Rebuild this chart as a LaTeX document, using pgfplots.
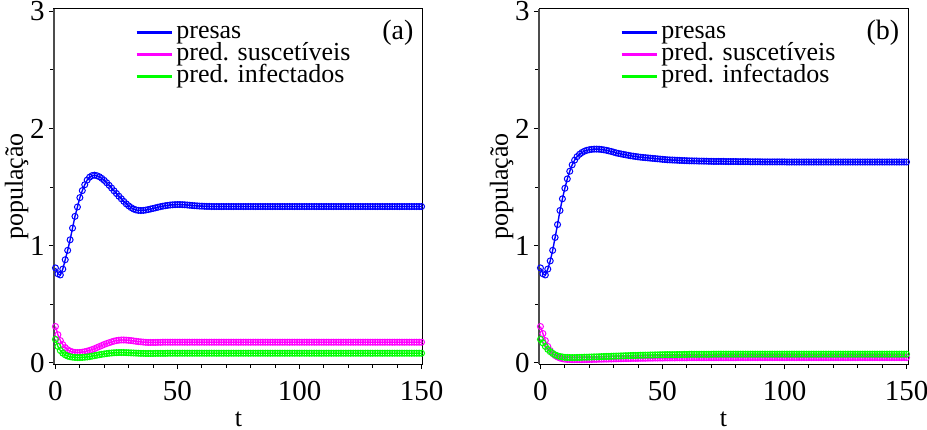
\documentclass[border=0pt]{standalone}
\usepackage{fontspec}
\setmainfont{Liberation Serif}
\usepackage{pgfplots}
\usepackage{pgfplotstable}
\pgfplotsset{compat=1.18}

\definecolor{cPrey}{RGB}{0,0,255}
\definecolor{cSus}{RGB}{255,0,255}
\definecolor{cInf}{RGB}{0,255,0}

% t, presas, pred. suscetiveis, pred. infectados -- panel (a)
\pgfplotstableread{
t p s i
0 0.81 0.31 0.20
1 0.76 0.24 0.14
2 0.75 0.19 0.105
3 0.80 0.155 0.083
4 0.88 0.13 0.068
5 0.96 0.112 0.058
6 1.05 0.100 0.052
7 1.15 0.093 0.048
8 1.25 0.089 0.046
9 1.33 0.088 0.045
10 1.41 0.089 0.045
11 1.47 0.091 0.046
12 1.52 0.095 0.048
13 1.56 0.100 0.050
14 1.585 0.106 0.053
15 1.598 0.113 0.057
16 1.602 0.121 0.061
17 1.597 0.130 0.065
18 1.588 0.139 0.069
19 1.574 0.148 0.073
20 1.557 0.157 0.076
21 1.537 0.165 0.079
22 1.515 0.172 0.082
23 1.492 0.179 0.084
24 1.468 0.185 0.086
25 1.445 0.190 0.087
26 1.422 0.193 0.088
27 1.400 0.195 0.088
28 1.378 0.195 0.088
29 1.357 0.194 0.087
30 1.340 0.192 0.086
31 1.325 0.190 0.085
32 1.313 0.187 0.084
33 1.305 0.184 0.083
34 1.301 0.181 0.082
35 1.300 0.179 0.081
36 1.301 0.177 0.081
37 1.304 0.175 0.080
38 1.308 0.174 0.080
39 1.313 0.174 0.080
40 1.318 0.174 0.080
41 1.323 0.174 0.081
42 1.328 0.175 0.081
43 1.333 0.175 0.081
44 1.337 0.176 0.081
45 1.341 0.176 0.081
46 1.344 0.176 0.082
47 1.347 0.176 0.082
48 1.349 0.176 0.082
49 1.350 0.176 0.082
50 1.351 0.176 0.082
51 1.351 0.176 0.082
52 1.350 0.176 0.082
53 1.349 0.176 0.082
54 1.347 0.176 0.082
55 1.345 0.176 0.082
56 1.343 0.176 0.082
57 1.341 0.176 0.082
58 1.340 0.176 0.082
59 1.338 0.176 0.082
60 1.337 0.176 0.082
61 1.336 0.176 0.082
62 1.335 0.176 0.082
63 1.335 0.176 0.082
64 1.334 0.176 0.082
65 1.334 0.176 0.082
66 1.334 0.176 0.082
67 1.334 0.176 0.082
68 1.334 0.176 0.082
69 1.334 0.176 0.082
70 1.334 0.176 0.082
71 1.334 0.176 0.082
72 1.334 0.176 0.082
73 1.334 0.176 0.082
74 1.334 0.176 0.082
75 1.334 0.176 0.082
76 1.334 0.176 0.082
77 1.334 0.176 0.082
78 1.334 0.176 0.082
79 1.334 0.176 0.082
80 1.334 0.176 0.082
81 1.334 0.176 0.082
82 1.334 0.176 0.082
83 1.334 0.176 0.082
84 1.334 0.176 0.082
85 1.334 0.176 0.082
86 1.334 0.176 0.082
87 1.334 0.176 0.082
88 1.334 0.176 0.082
89 1.334 0.176 0.082
90 1.334 0.176 0.082
91 1.334 0.176 0.082
92 1.334 0.176 0.082
93 1.334 0.176 0.082
94 1.334 0.176 0.082
95 1.334 0.176 0.082
96 1.334 0.176 0.082
97 1.334 0.176 0.082
98 1.334 0.176 0.082
99 1.334 0.176 0.082
100 1.334 0.176 0.082
101 1.334 0.176 0.082
102 1.334 0.176 0.082
103 1.334 0.176 0.082
104 1.334 0.176 0.082
105 1.334 0.176 0.082
106 1.334 0.176 0.082
107 1.334 0.176 0.082
108 1.334 0.176 0.082
109 1.334 0.176 0.082
110 1.334 0.176 0.082
111 1.334 0.176 0.082
112 1.334 0.176 0.082
113 1.334 0.176 0.082
114 1.334 0.176 0.082
115 1.334 0.176 0.082
116 1.334 0.176 0.082
117 1.334 0.176 0.082
118 1.334 0.176 0.082
119 1.334 0.176 0.082
120 1.334 0.176 0.082
121 1.334 0.176 0.082
122 1.334 0.176 0.082
123 1.334 0.176 0.082
124 1.334 0.176 0.082
125 1.334 0.176 0.082
126 1.334 0.176 0.082
127 1.334 0.176 0.082
128 1.334 0.176 0.082
129 1.334 0.176 0.082
130 1.334 0.176 0.082
131 1.334 0.176 0.082
132 1.334 0.176 0.082
133 1.334 0.176 0.082
134 1.334 0.176 0.082
135 1.334 0.176 0.082
136 1.334 0.176 0.082
137 1.334 0.176 0.082
138 1.334 0.176 0.082
139 1.334 0.176 0.082
140 1.334 0.176 0.082
141 1.334 0.176 0.082
142 1.334 0.176 0.082
143 1.334 0.176 0.082
144 1.334 0.176 0.082
145 1.334 0.176 0.082
146 1.334 0.176 0.082
147 1.334 0.176 0.082
148 1.334 0.176 0.082
149 1.334 0.176 0.082
150 1.334 0.176 0.082
}\dataA

% panel (b)
\pgfplotstableread{
t p s i
0 0.81 0.31 0.20
1 0.76 0.25 0.17
2 0.75 0.19 0.14
3 0.80 0.14 0.115
4 0.87 0.105 0.095
5 0.96 0.080 0.080
6 1.07 0.062 0.068
7 1.18 0.050 0.060
8 1.30 0.041 0.054
9 1.40 0.035 0.050
10 1.49 0.031 0.047
11 1.57 0.029 0.046
12 1.635 0.028 0.045
13 1.69 0.027 0.045
14 1.73 0.027 0.045
15 1.76 0.027 0.046
16 1.78 0.027 0.046
17 1.795 0.027 0.047
18 1.806 0.028 0.048
19 1.814 0.028 0.048
20 1.819 0.029 0.049
21 1.822 0.029 0.050
22 1.824 0.030 0.051
23 1.824 0.030 0.051
24 1.823 0.031 0.052
25 1.821 0.031 0.053
26 1.818 0.032 0.054
27 1.814 0.032 0.055
28 1.809 0.033 0.055
29 1.804 0.033 0.056
30 1.798 0.034 0.057
31 1.792 0.034 0.058
32 1.787 0.035 0.058
33 1.783 0.035 0.059
34 1.779 0.036 0.060
35 1.775 0.036 0.061
36 1.771 0.037 0.061
37 1.767 0.037 0.062
38 1.764 0.038 0.063
39 1.761 0.038 0.063
40 1.758 0.038 0.064
41 1.755 0.039 0.065
42 1.753 0.039 0.065
43 1.751 0.039 0.066
44 1.749 0.040 0.066
45 1.747 0.040 0.067
46 1.745 0.040 0.067
47 1.743 0.041 0.068
48 1.741 0.041 0.068
49 1.739 0.041 0.069
50 1.737 0.041 0.069
51 1.735 0.042 0.070
52 1.733 0.042 0.070
53 1.732 0.042 0.070
54 1.731 0.042 0.070
55 1.730 0.042 0.070
56 1.729 0.043 0.071
57 1.728 0.043 0.071
58 1.727 0.043 0.071
59 1.726 0.043 0.072
60 1.725 0.043 0.072
61 1.724 0.044 0.073
62 1.724 0.044 0.073
63 1.723 0.044 0.073
64 1.723 0.044 0.073
65 1.722 0.044 0.073
66 1.722 0.044 0.073
67 1.721 0.044 0.073
68 1.721 0.044 0.073
69 1.720 0.044 0.073
70 1.720 0.044 0.073
71 1.719 0.044 0.074
72 1.719 0.044 0.074
73 1.719 0.044 0.074
74 1.719 0.044 0.074
75 1.719 0.044 0.074
76 1.718 0.044 0.074
77 1.718 0.044 0.074
78 1.718 0.044 0.074
79 1.718 0.044 0.074
80 1.718 0.044 0.074
81 1.717 0.045 0.074
82 1.717 0.045 0.074
83 1.717 0.045 0.074
84 1.717 0.045 0.074
85 1.717 0.045 0.074
86 1.716 0.045 0.074
87 1.716 0.045 0.074
88 1.716 0.045 0.074
89 1.716 0.045 0.074
90 1.716 0.045 0.074
91 1.715 0.045 0.074
92 1.715 0.045 0.074
93 1.715 0.045 0.074
94 1.715 0.045 0.074
95 1.715 0.045 0.074
96 1.715 0.045 0.074
97 1.715 0.045 0.074
98 1.715 0.045 0.074
99 1.715 0.045 0.074
100 1.715 0.045 0.074
101 1.714 0.045 0.074
102 1.714 0.045 0.074
103 1.714 0.045 0.074
104 1.714 0.045 0.074
105 1.714 0.045 0.074
106 1.714 0.045 0.074
107 1.714 0.045 0.074
108 1.714 0.045 0.074
109 1.714 0.045 0.074
110 1.714 0.045 0.074
111 1.714 0.045 0.074
112 1.714 0.045 0.074
113 1.714 0.045 0.074
114 1.714 0.045 0.074
115 1.714 0.045 0.074
116 1.714 0.045 0.074
117 1.714 0.045 0.074
118 1.714 0.045 0.074
119 1.714 0.045 0.074
120 1.714 0.045 0.074
121 1.714 0.045 0.074
122 1.714 0.045 0.074
123 1.714 0.045 0.074
124 1.714 0.045 0.074
125 1.714 0.045 0.074
126 1.714 0.045 0.074
127 1.714 0.045 0.074
128 1.714 0.045 0.074
129 1.714 0.045 0.074
130 1.714 0.045 0.074
131 1.714 0.045 0.074
132 1.714 0.045 0.074
133 1.714 0.045 0.074
134 1.714 0.045 0.074
135 1.714 0.045 0.074
136 1.714 0.045 0.074
137 1.714 0.045 0.074
138 1.714 0.045 0.074
139 1.714 0.045 0.074
140 1.714 0.045 0.074
141 1.714 0.045 0.074
142 1.714 0.045 0.074
143 1.714 0.045 0.074
144 1.714 0.045 0.074
145 1.714 0.045 0.074
146 1.714 0.045 0.074
147 1.714 0.045 0.074
148 1.714 0.045 0.074
149 1.714 0.045 0.074
150 1.714 0.045 0.074
}\dataB

\pgfplotsset{
  panel/.style={
    scale only axis, width=184.5pt, height=177.5pt,
    xmin=-0.6, xmax=150.6, ymin=-0.01, ymax=3.02,
    xtick={0,50,100,150}, minor x tick num=4,
    ytick={0,1,2,3}, minor y tick num=1,
    xtick pos=bottom, ytick pos=left,
    tick align=outside, major tick length=2.6pt, minor tick length=1.8pt,
    tick style={black, line width=0.5pt},
    axis line style={black, line width=0.5pt},
    font=\fontsize{13}{15}\selectfont,
    xticklabel style={font=\fontsize{14.5}{16}\selectfont, yshift=-2.5pt},
    yticklabel style={font=\fontsize{14.5}{16}\selectfont, xshift=1.5pt},
    xticklabel={\pgfmathprintnumber[assume math mode=true]{\tick}},
    yticklabel={\pgfmathprintnumber[assume math mode=true]{\tick}},
    xlabel={t}, ylabel={população},
    xlabel shift=-1.5pt, ylabel shift=-6pt,
    clip=false,
    legend cell align=left,
    legend style={draw=none, fill=none, inner sep=0pt, row sep=0pt,
      at={(rel axis cs:0.22,0.966)}, anchor=north west,
      nodes={inner sep=0pt, text height=8.5pt, text depth=2.5pt},
      font=\fontsize{13}{15}\selectfont},
    legend image code/.code={\draw[##1, line width=1.1pt] (0pt,0pt) -- (17.5pt,0pt); \path (19.5pt,0pt);},
  },
  ser/.style={#1, line width=0.7pt, mark=o, mark size=1.5pt, mark options={line width=0.5pt}},
}

\begin{document}
\begin{tikzpicture}
\path[use as bounding box] (-27pt,-32.5pt) rectangle (436.5pt,182pt);

\begin{axis}[panel, at={(0pt,0pt)}, anchor=south west]
\addplot[ser=cPrey] table[x=t, y=p] {\dataA};
\addlegendentry{presas}
\addplot[ser=cSus] table[x=t, y=s] {\dataA};
\addlegendentry{pred. suscetíveis}
\addplot[ser=cInf] table[x=t, y=i] {\dataA};
\addlegendentry{pred. infectados}
\draw[gray!60!black, line width=1pt] (rel axis cs:0,1) -- (rel axis cs:0,0);
\node[font=\fontsize{14}{16}\selectfont] at (rel axis cs:0.932,0.932) {(a)};
\end{axis}

\begin{axis}[panel, at={(242.5pt,0pt)}, anchor=south west]
\addplot[ser=cPrey] table[x=t, y=p] {\dataB};
\addlegendentry{presas}
\addplot[ser=cSus] table[x=t, y=s] {\dataB};
\addlegendentry{pred. suscetíveis}
\addplot[ser=cInf] table[x=t, y=i] {\dataB};
\addlegendentry{pred. infectados}
\draw[gray!60!black, line width=1pt] (rel axis cs:0,1) -- (rel axis cs:0,0);
\node[font=\fontsize{14}{16}\selectfont] at (rel axis cs:0.932,0.932) {(b)};
\end{axis}
\end{tikzpicture}
\end{document}
